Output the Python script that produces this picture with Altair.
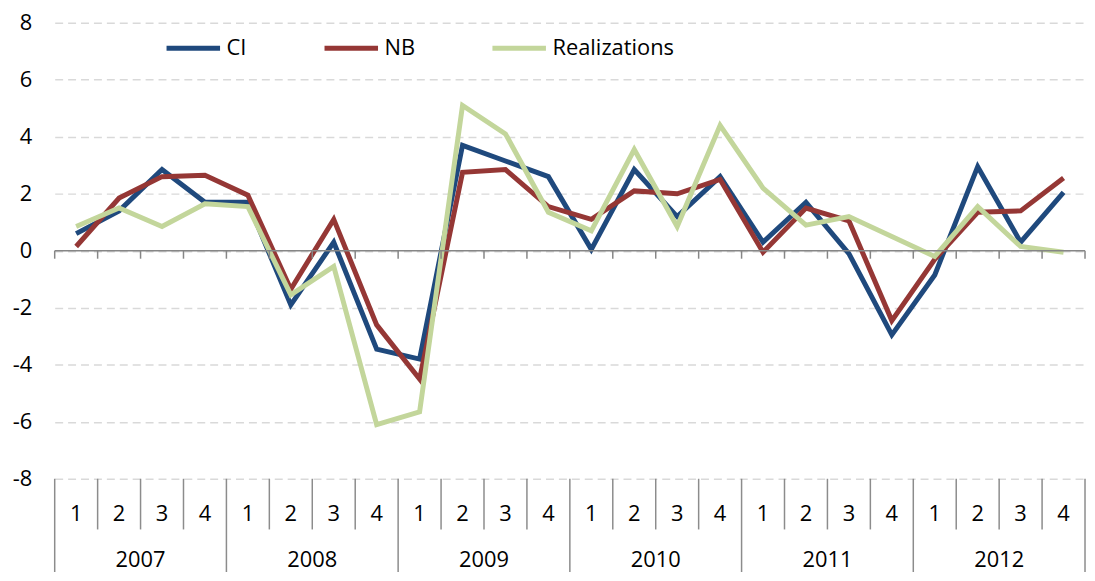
import altair as alt
import pandas as pd

years = [2007, 2008, 2009, 2010, 2011, 2012]
quarters = [1, 2, 3, 4]
series_names = ["CI", "NB", "Realizations"]
series_colors = ["#1F497D", "#953735", "#C3D69B"]

ci = [0.6, 1.4, 2.85, 1.7, 1.7, -1.9, 0.3, -3.45, -3.8, 3.7, 3.15, 2.6,
      0.05, 2.85, 1.2, 2.6, 0.3, 1.7, -0.1, -2.95, -0.85, 2.95, 0.3, 2.05]
nb = [0.15, 1.85, 2.6, 2.65, 1.95, -1.35, 1.1, -2.6, -4.5, 2.75, 2.85, 1.55,
      1.1, 2.1, 2.0, 2.5, -0.05, 1.5, 1.05, -2.45, -0.3, 1.35, 1.4, 2.55]
realizations = [0.85, 1.5, 0.85, 1.65, 1.55, -1.55, -0.55, -6.1, -5.65, 5.1, 4.1, 1.35,
                0.7, 3.55, 0.85, 4.4, 2.2, 0.9, 1.2, 0.5, -0.2, 1.55, 0.15, -0.05]
y_ticks = [-8, -6, -4, -2, 0, 2, 4, 6, 8]

W, H = 1037, 459
FONT = "Open Sans"
FS = 22

cats = []
for yr in years:
    for q in quarters:
        cats.append({"year": str(yr), "quarter": str(q), "pos": len(cats) + 0.5})
cat_df = pd.DataFrame(cats)

rows = []
for name, vals in zip(series_names, [ci, nb, realizations]):
    for c, v in zip(cats, vals):
        rows.append({"series": name, "pos": c["pos"], "value": v})
df = pd.DataFrame(rows)

n = len(cats)
all_b = list(range(n + 1))
year_b = pd.DataFrame({"b": [float(b) for b in all_b if b % len(quarters) == 0]})
quarter_b = pd.DataFrame({"b": [float(b) for b in all_b if b % len(quarters) != 0]})
bounds = pd.DataFrame({"b": [float(b) for b in all_b]})
year_df = pd.DataFrame({"year": [str(y) for y in years],
                        "center": [float(i * len(quarters) + len(quarters) / 2) for i in range(len(years))]})

xs = alt.Scale(domain=[0, n], nice=False, zero=False)
ys = alt.Scale(domain=[-8, 8], nice=False, zero=False)

y_axis = alt.Axis(values=y_ticks, grid=True, gridDash=[8, 5], gridColor="#D9D9D9",
                  gridWidth=1.5, domain=False, ticks=False, labelFontSize=FS,
                  labelFont=FONT, labelColor="#000000", labelPadding=23, title=None,
                  labelExpr="toString(datum.value)")

lines = alt.Chart(df).mark_line(strokeWidth=5).encode(
    x=alt.X("pos:Q", scale=xs, axis=None),
    y=alt.Y("value:Q", scale=ys, axis=y_axis),
    color=alt.Color("series:N",
                    scale=alt.Scale(domain=series_names, range=series_colors),
                    legend=alt.Legend(orient="none", legendX=110, legendY=-4,
                                      direction="horizontal", title=None,
                                      symbolType="stroke", symbolSize=2900,
                                      symbolStrokeWidth=5, labelFontSize=FS,
                                      labelFont=FONT, labelColor="#000000",
                                      columnPadding=67, labelOffset=4)),
)

zero_line = alt.Chart(pd.DataFrame({"z": [0.0]})).mark_rule(color="#868686", strokeWidth=1.5).encode(
    y=alt.Y("z:Q", scale=ys, axis=y_axis),
)

zero_ticks = alt.Chart(bounds).mark_rule(color="#868686", strokeWidth=1.5).encode(
    x=alt.X("b:Q", scale=xs, axis=None),
    y=alt.value(H / 2), y2=alt.value(H / 2 + 8),
)

q_sep = alt.Chart(quarter_b).mark_rule(color="#8C8C8C", strokeWidth=1.5).encode(
    x=alt.X("b:Q", scale=xs, axis=None),
    y=alt.value(H), y2=alt.value(H + 51),
)

yr_sep = alt.Chart(year_b).mark_rule(color="#8C8C8C", strokeWidth=1.5).encode(
    x=alt.X("b:Q", scale=xs, axis=None),
    y=alt.value(H), y2=alt.value(H + 110),
)

q_labels = alt.Chart(cat_df).mark_text(fontSize=FS, font=FONT, color="#000000",
                                       baseline="middle").encode(
    x=alt.X("pos:Q", scale=xs, axis=None),
    y=alt.value(H + 35),
    text="quarter:N",
)

y_labels = alt.Chart(year_df).mark_text(fontSize=FS, font=FONT, color="#000000",
                                        baseline="middle").encode(
    x=alt.X("center:Q", scale=xs, axis=None),
    y=alt.value(H + 82),
    text="year:N",
)

chart = alt.layer(lines, zero_line, zero_ticks, q_sep, yr_sep, q_labels, y_labels).properties(
    width=W, height=H,
    background="white",
    autosize=alt.AutoSizeParams(type="none"),
    padding={"left": 47, "top": 13, "right": 2, "bottom": 92},
).configure_view(stroke=None)

chart.save("out.html", embed_options={"renderer": "svg", "actions": False})
